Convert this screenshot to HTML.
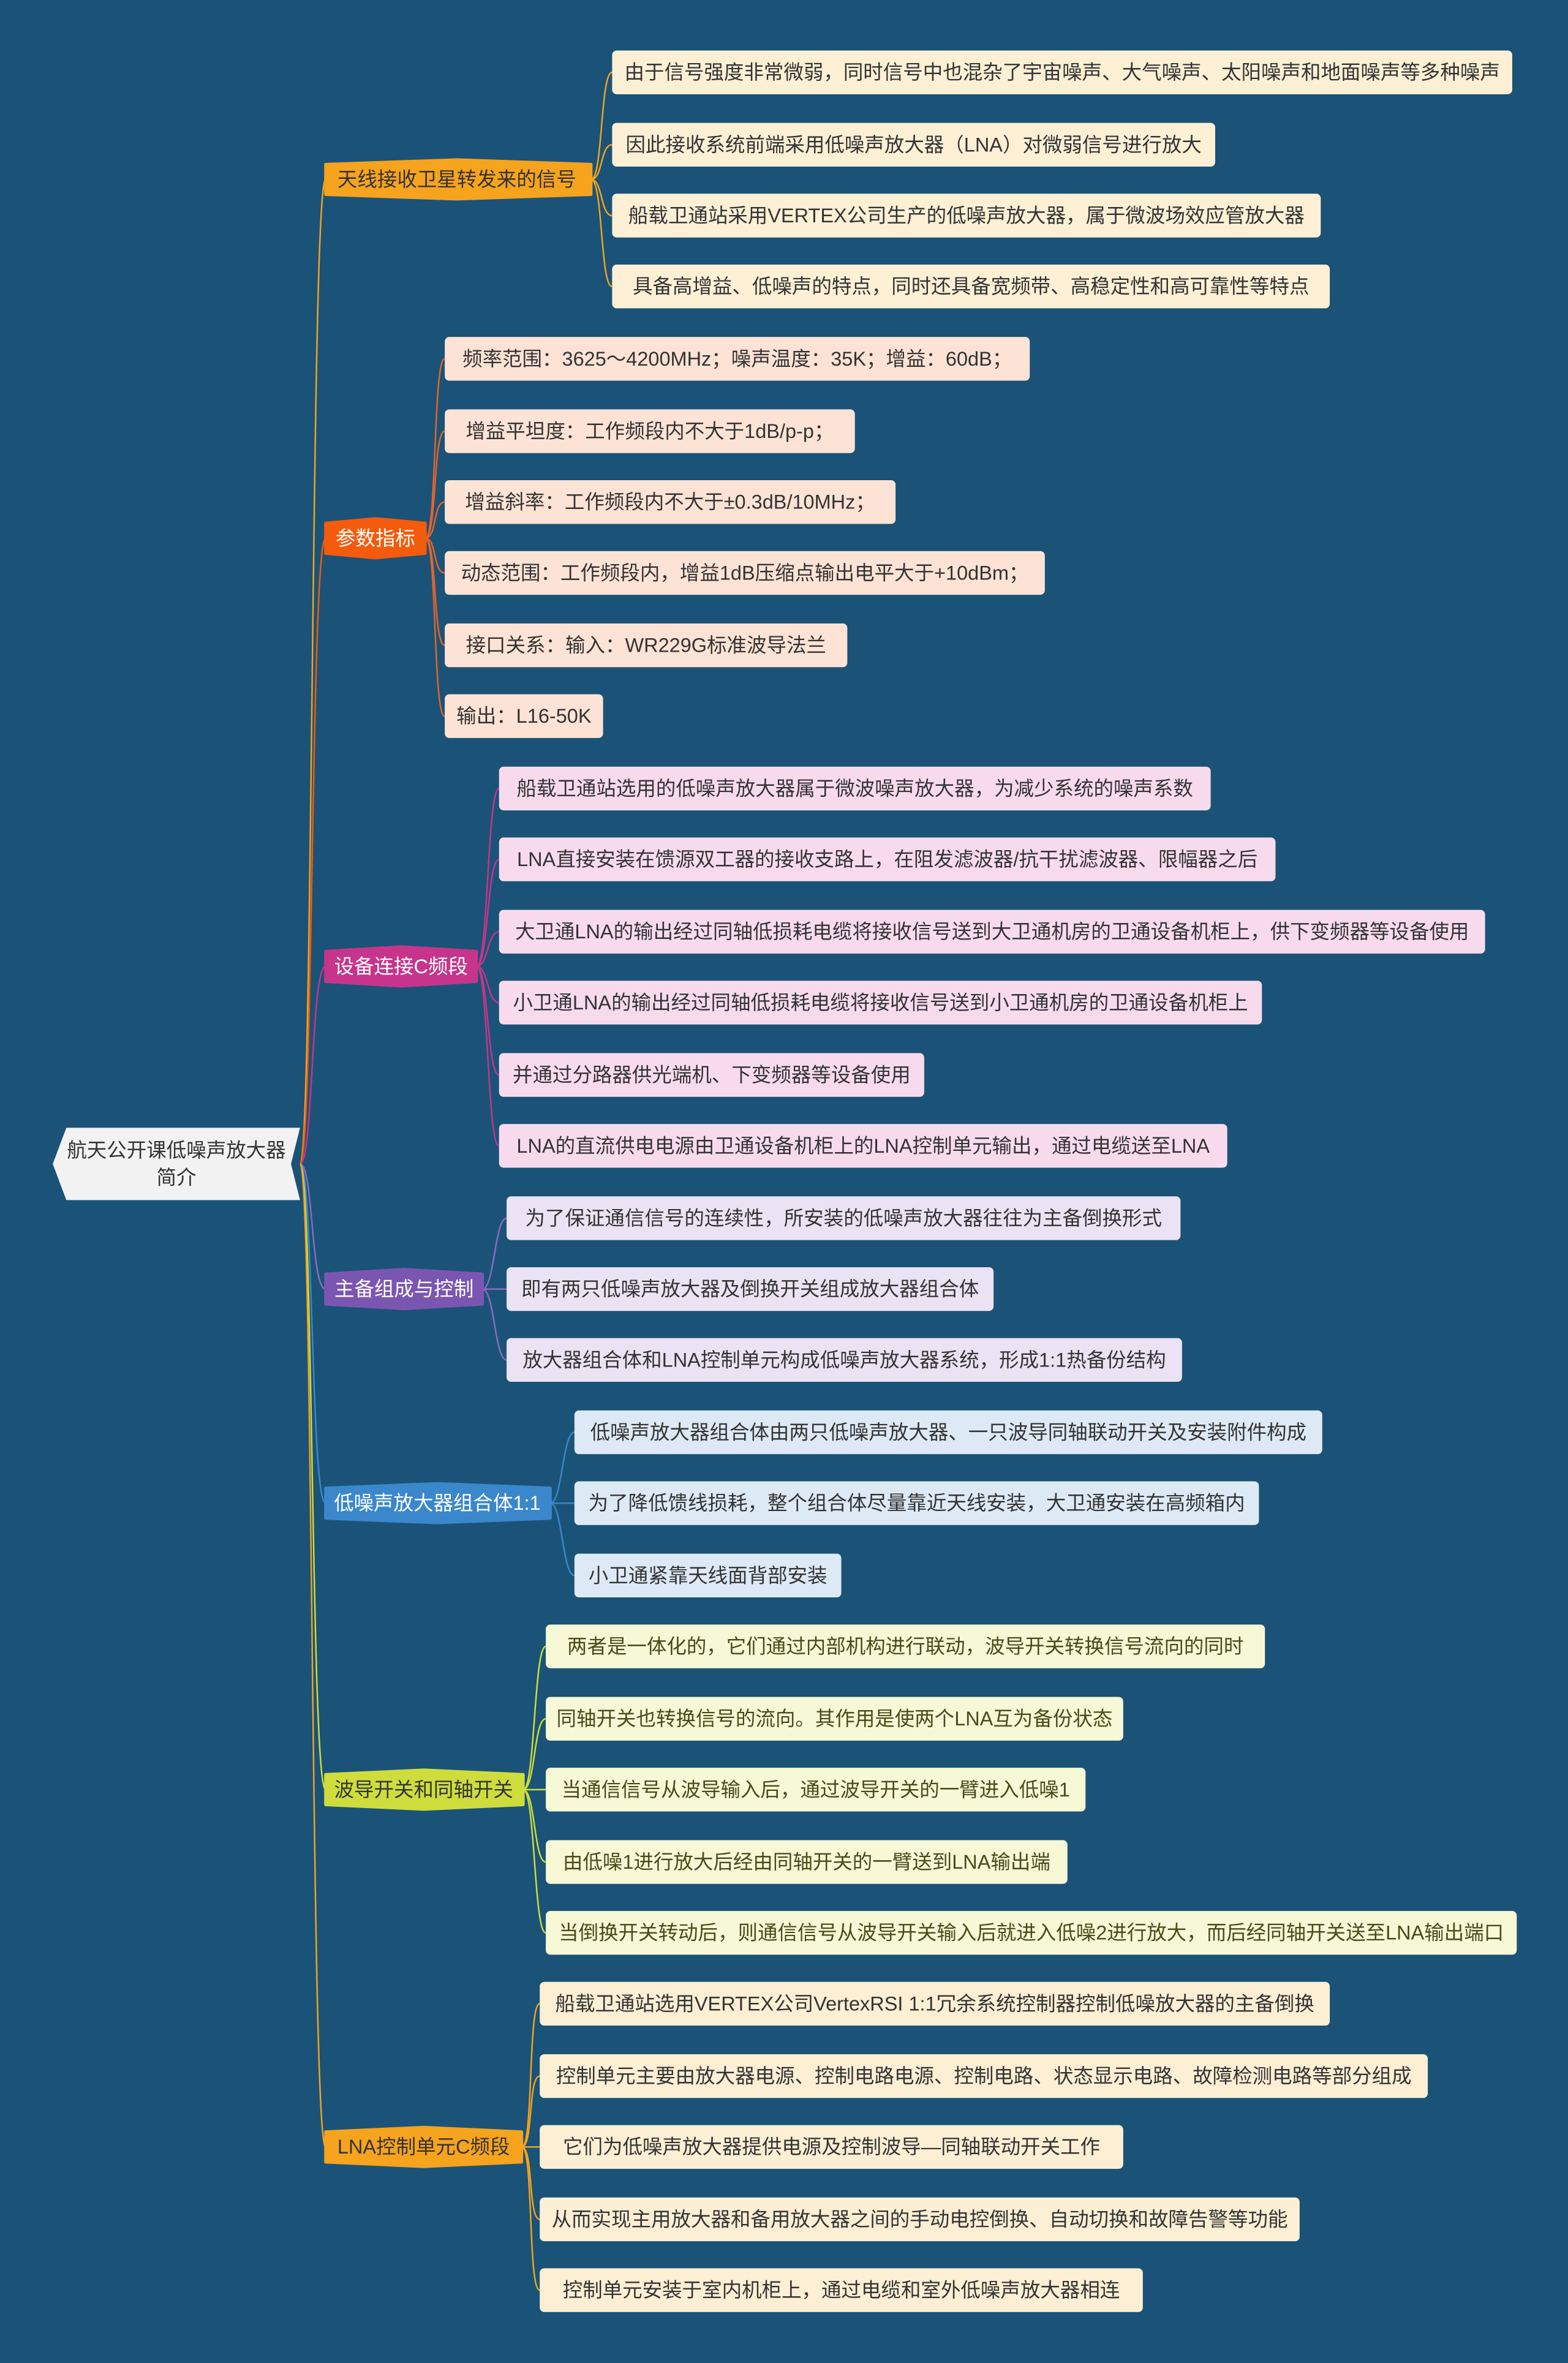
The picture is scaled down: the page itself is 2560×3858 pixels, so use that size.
<!DOCTYPE html>
<html><head><meta charset="utf-8">
<style>
html,body{margin:0;padding:0;background:#1a5377;}
svg{display:block;}
text{font-family:"Liberation Sans","Noto Sans CJK SC",sans-serif;font-size:13.2px;dominant-baseline:central;}
</style></head><body>
<svg width="2560" height="3858" viewBox="0 0 1040 1567.3" preserveAspectRatio="none" xmlns="http://www.w3.org/2000/svg">
<rect x="0" y="0" width="1040" height="1568" fill="#1a5377"/>
<!-- root to branch connectors -->
<g fill="none" stroke-width="1">
<path d="M199,772 C208,772 206,119 216,119" stroke="#f6a31e"/>
<path d="M199,772 C208,772 206,357 216,357" stroke="#f45b0c"/>
<path d="M199,772 C208,772 206,641 216,641" stroke="#c6358b"/>
<path d="M199,772 C208,772 206,855 216,855" stroke="#8a6bbf"/>
<path d="M199,772 C208,772 206,997 216,997" stroke="#3a87cc"/>
<path d="M199,772 C208,772 206,1187 216,1187" stroke="#cfdd3c"/>
<path d="M199,772 C208,772 206,1424 216,1424" stroke="#f6a31e"/>
</g>
<!-- branch to leaf connectors -->
<g fill="none" stroke-width="1">
<g stroke="#f6a31e">
<path d="M392,119 C400,119 398,48 406,48"/><path d="M392,119 C400,119 398,96 406,96"/><path d="M392,119 C400,119 398,143 406,143"/><path d="M392,119 C400,119 398,190 406,190"/>
</g>
<g stroke="#e8632a">
<path d="M282,357 C290,357 287,238 295,238"/><path d="M282,357 C290,357 287,286 295,286"/><path d="M282,357 C290,357 287,333 295,333"/><path d="M282,357 C290,357 287,380 295,380"/><path d="M282,357 C290,357 287,428 295,428"/><path d="M282,357 C290,357 287,475 295,475"/>
</g>
<g stroke="#c6358b">
<path d="M316,641 C324,641 323,523 331,523"/><path d="M316,641 C324,641 323,570 331,570"/><path d="M316,641 C324,641 323,618 331,618"/><path d="M316,641 C324,641 323,665 331,665"/><path d="M316,641 C324,641 323,713 331,713"/><path d="M316,641 C324,641 323,760 331,760"/>
</g>
<g stroke="#8a6bbf">
<path d="M320,855 C328,855 328,808 336,808"/><path d="M320,855 L336,855"/><path d="M320,855 C328,855 328,902 336,902"/>
</g>
<g stroke="#3a87cc">
<path d="M365,997 C373,997 373,950 381,950"/><path d="M365,997 L381,997"/><path d="M365,997 C373,997 373,1045 381,1045"/>
</g>
<g stroke="#cfdd3c">
<path d="M347,1187 C355,1187 354,1092 362,1092"/><path d="M347,1187 C355,1187 354,1140 362,1140"/><path d="M347,1187 L362,1187"/><path d="M347,1187 C355,1187 354,1235 362,1235"/><path d="M347,1187 C355,1187 354,1282 362,1282"/>
</g>
<g stroke="#f6a31e">
<path d="M346,1424 C354,1424 350,1329 358,1329"/><path d="M346,1424 C354,1424 350,1377 358,1377"/><path d="M346,1424 L358,1424"/><path d="M346,1424 C354,1424 350,1472 358,1472"/><path d="M346,1424 C354,1424 350,1519 358,1519"/>
</g>
</g>
<!-- root -->
<path d="M44,748 L199,748 L193,772 L199,796 L44,796 L35,772 Z" fill="#f2f2f2"/>
<text x="117" y="763" text-anchor="middle" fill="#333">航天公开课低噪声放大器</text>
<text x="117" y="781" text-anchor="middle" fill="#333">简介</text>
<!-- branches -->
<g>
<path d="M216,109 L303,106 L392,109 L392,129 L303,132 L216,129 Z" fill="#f6a31e" stroke="#f6a31e" stroke-width="2" stroke-linejoin="round"/>
<text x="303" y="119" text-anchor="middle" fill="#333">天线接收卫星转发来的信号</text>
<path d="M216,347 L249,344 L282,347 L282,367 L249,370 L216,367 Z" fill="#f45b0c" stroke="#f45b0c" stroke-width="2" stroke-linejoin="round"/>
<text x="249" y="357" text-anchor="middle" fill="#fff">参数指标</text>
<path d="M216,631 L266,628 L316,631 L316,651 L266,654 L216,651 Z" fill="#c6358b" stroke="#c6358b" stroke-width="2" stroke-linejoin="round"/>
<text x="266" y="641" text-anchor="middle" fill="#fff">设备连接C频段</text>
<path d="M216,845 L268,842 L320,845 L320,865 L268,868 L216,865 Z" fill="#7b56b0" stroke="#7b56b0" stroke-width="2" stroke-linejoin="round"/>
<text x="268" y="855" text-anchor="middle" fill="#fff">主备组成与控制</text>
<path d="M216,987 L290,984 L365,987 L365,1007 L290,1010 L216,1007 Z" fill="#3a87cc" stroke="#3a87cc" stroke-width="2" stroke-linejoin="round"/>
<text x="290" y="997" text-anchor="middle" fill="#fff">低噪声放大器组合体1:1</text>
<path d="M216,1177 L281,1174 L347,1177 L347,1197 L281,1200 L216,1197 Z" fill="#cfdd3c" stroke="#cfdd3c" stroke-width="2" stroke-linejoin="round"/>
<text x="281" y="1187" text-anchor="middle" fill="#333">波导开关和同轴开关</text>
<path d="M216,1414 L281,1411 L346,1414 L346,1434 L281,1437 L216,1434 Z" fill="#f6a31e" stroke="#f6a31e" stroke-width="2" stroke-linejoin="round"/>
<text x="281" y="1424" text-anchor="middle" fill="#333">LNA控制单元C频段</text>
</g>
<!-- leaves -->
<g>
<g fill="#fdf0d5">
<rect x="406" y="33.5" width="597" height="29" rx="3"/><rect x="406" y="81.5" width="400" height="29" rx="3"/><rect x="406" y="128.5" width="470" height="29" rx="3"/><rect x="406" y="175.5" width="476" height="29" rx="3"/>
</g>
<g fill="#333">
<text x="704.5" y="48" text-anchor="middle">由于信号强度非常微弱，同时信号中也混杂了宇宙噪声、大气噪声、太阳噪声和地面噪声等多种噪声</text>
<text x="606" y="96" text-anchor="middle">因此接收系统前端采用低噪声放大器（LNA）对微弱信号进行放大</text>
<text x="641" y="143" text-anchor="middle">船载卫通站采用VERTEX公司生产的低噪声放大器，属于微波场效应管放大器</text>
<text x="644" y="190" text-anchor="middle">具备高增益、低噪声的特点，同时还具备宽频带、高稳定性和高可靠性等特点</text>
</g>
<g fill="#fde3d5">
<rect x="295" y="223.5" width="388" height="29" rx="3"/><rect x="295" y="271.5" width="272" height="29" rx="3"/><rect x="295" y="318.5" width="299" height="29" rx="3"/><rect x="295" y="365.5" width="398" height="29" rx="3"/><rect x="295" y="413.5" width="267" height="29" rx="3"/><rect x="295" y="460.5" width="105" height="29" rx="3"/>
</g>
<g fill="#333">
<text x="489" y="238" text-anchor="middle">频率范围：3625～4200MHz；噪声温度：35K；增益：60dB；</text>
<text x="431" y="286" text-anchor="middle">增益平坦度：工作频段内不大于1dB/p-p；</text>
<text x="444.5" y="333" text-anchor="middle">增益斜率：工作频段内不大于±0.3dB/10MHz；</text>
<text x="494" y="380" text-anchor="middle">动态范围：工作频段内，增益1dB压缩点输出电平大于+10dBm；</text>
<text x="428.5" y="428" text-anchor="middle">接口关系：输入：WR229G标准波导法兰</text>
<text x="347.5" y="475" text-anchor="middle">输出：L16-50K</text>
</g>
<g fill="#f7dbed">
<rect x="331" y="508.5" width="472" height="29" rx="3"/><rect x="331" y="555.5" width="515" height="29" rx="3"/><rect x="331" y="603.5" width="654" height="29" rx="3"/><rect x="331" y="650.5" width="506" height="29" rx="3"/><rect x="331" y="698.5" width="282" height="29" rx="3"/><rect x="331" y="745.5" width="483" height="29" rx="3"/>
</g>
<g fill="#333">
<text x="567" y="523" text-anchor="middle">船载卫通站选用的低噪声放大器属于微波噪声放大器，为减少系统的噪声系数</text>
<text x="588.5" y="570" text-anchor="middle">LNA直接安装在馈源双工器的接收支路上，在阻发滤波器/抗干扰滤波器、限幅器之后</text>
<text x="658" y="618" text-anchor="middle">大卫通LNA的输出经过同轴低损耗电缆将接收信号送到大卫通机房的卫通设备机柜上，供下变频器等设备使用</text>
<text x="584" y="665" text-anchor="middle">小卫通LNA的输出经过同轴低损耗电缆将接收信号送到小卫通机房的卫通设备机柜上</text>
<text x="472" y="713" text-anchor="middle">并通过分路器供光端机、下变频器等设备使用</text>
<text x="572.5" y="760" text-anchor="middle">LNA的直流供电电源由卫通设备机柜上的LNA控制单元输出，通过电缆送至LNA</text>
</g>
<g fill="#ebe3f3">
<rect x="336" y="793.5" width="447" height="29" rx="3"/><rect x="336" y="840.5" width="323" height="29" rx="3"/><rect x="336" y="887.5" width="448" height="29" rx="3"/>
</g>
<g fill="#333">
<text x="559.5" y="808" text-anchor="middle">为了保证通信信号的连续性，所安装的低噪声放大器往往为主备倒换形式</text>
<text x="497.5" y="855" text-anchor="middle">即有两只低噪声放大器及倒换开关组成放大器组合体</text>
<text x="560" y="902" text-anchor="middle">放大器组合体和LNA控制单元构成低噪声放大器系统，形成1:1热备份结构</text>
</g>
<g fill="#dde9f5">
<rect x="381" y="935.5" width="496" height="29" rx="3"/><rect x="381" y="982.5" width="454" height="29" rx="3"/><rect x="381" y="1030.5" width="177" height="29" rx="3"/>
</g>
<g fill="#333">
<text x="629" y="950" text-anchor="middle">低噪声放大器组合体由两只低噪声放大器、一只波导同轴联动开关及安装附件构成</text>
<text x="608" y="997" text-anchor="middle">为了降低馈线损耗，整个组合体尽量靠近天线安装，大卫通安装在高频箱内</text>
<text x="469.5" y="1045" text-anchor="middle">小卫通紧靠天线面背部安装</text>
</g>
<g fill="#f6f8d6">
<rect x="362" y="1077.5" width="477" height="29" rx="3"/><rect x="362" y="1125.5" width="383" height="29" rx="3"/><rect x="362" y="1172.5" width="358" height="29" rx="3"/><rect x="362" y="1220.5" width="346" height="29" rx="3"/><rect x="362" y="1267.5" width="644" height="29" rx="3"/>
</g>
<g fill="#4a4a1a">
<text x="600.5" y="1092" text-anchor="middle">两者是一体化的，它们通过内部机构进行联动，波导开关转换信号流向的同时</text>
<text x="553.5" y="1140" text-anchor="middle">同轴开关也转换信号的流向。其作用是使两个LNA互为备份状态</text>
<text x="541" y="1187" text-anchor="middle">当通信信号从波导输入后，通过波导开关的一臂进入低噪1</text>
<text x="535" y="1235" text-anchor="middle">由低噪1进行放大后经由同轴开关的一臂送到LNA输出端</text>
<text x="684" y="1282" text-anchor="middle">当倒换开关转动后，则通信信号从波导开关输入后就进入低噪2进行放大，而后经同轴开关送至LNA输出端口</text>
</g>
<g fill="#fdefd4">
<rect x="358" y="1314.5" width="524" height="29" rx="3"/><rect x="358" y="1362.5" width="589" height="29" rx="3"/><rect x="358" y="1409.5" width="387" height="29" rx="3"/><rect x="358" y="1457.5" width="504" height="29" rx="3"/><rect x="358" y="1504.5" width="400" height="29" rx="3"/>
</g>
<g fill="#333">
<text x="620" y="1329" text-anchor="middle">船载卫通站选用VERTEX公司VertexRSI 1:1冗余系统控制器控制低噪放大器的主备倒换</text>
<text x="652.5" y="1377" text-anchor="middle">控制单元主要由放大器电源、控制电路电源、控制电路、状态显示电路、故障检测电路等部分组成</text>
<text x="551.5" y="1424" text-anchor="middle">它们为低噪声放大器提供电源及控制波导—同轴联动开关工作</text>
<text x="610" y="1472" text-anchor="middle">从而实现主用放大器和备用放大器之间的手动电控倒换、自动切换和故障告警等功能</text>
<text x="558" y="1519" text-anchor="middle">控制单元安装于室内机柜上，通过电缆和室外低噪声放大器相连</text>
</g>
</g>
</svg>
</body></html>
